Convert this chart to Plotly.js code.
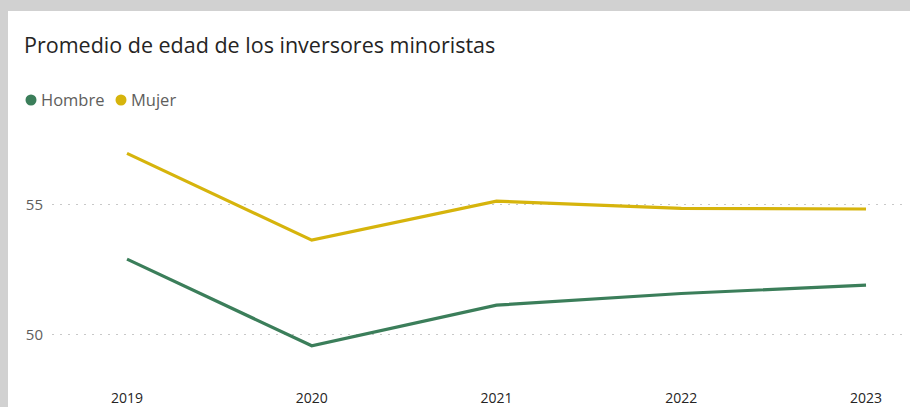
<!DOCTYPE html>
<html>
<head>
<meta charset="utf-8">
<script src="https://cdn.plot.ly/plotly-3.0.1.min.js"></script>
<style>
  html, body { margin: 0; padding: 0; background: #d1d1d1; width: 910px; height: 407px; overflow: hidden; }
  #chart { position: absolute; left: 8px; top: 11px; width: 902px; height: 396px; background: #ffffff; }
</style>
</head>
<body>
<div id="chart"></div>
<script>
const years = [2019, 2020, 2021, 2022, 2023];
const hombre = [52.91, 49.58, 51.14, 51.59, 51.91];
const mujer = [56.98, 53.64, 55.14, 54.86, 54.84];
const seriesNames = ["Hombre", "Mujer"];
const seriesColors = ["#3b7e5a", "#d6b40c"];
const yTicks = [50, 55];
const titleText = "Promedio de edad de los inversores minoristas";

const FONT = "'Open Sans', 'Noto Sans', sans-serif";

const W = 902, H = 396;
const M = { l: 44, r: 5, t: 114, b: 22 };
const PW = W - M.l - M.r, PH = H - M.t - M.b;
const px2x = p => (p - M.l) / PW;
const px2y = p => 1 - (p - M.t) / PH;

const traces = [hombre, mujer].map((vals, i) => ({
  type: "scatter",
  mode: "lines",
  x: years,
  y: vals,
  name: seriesNames[i],
  line: { color: seriesColors[i], width: 3.2 },
  showlegend: false,
  hoverinfo: "x+y+name"
}));

// legend: circle + label per series
const legendStartX = [23, 113];
const legendY = 89;
const shapes = seriesNames.map((n, i) => ({
  type: "circle",
  xref: "paper", yref: "paper",
  xsizemode: "pixel", ysizemode: "pixel",
  xanchor: px2x(legendStartX[i]), yanchor: px2y(legendY),
  x0: -5.5, x1: 5.5, y0: -5.5, y1: 5.5,
  fillcolor: seriesColors[i],
  line: { width: 0 }
}));
const legendAnnotations = seriesNames.map((n, i) => ({
  text: n,
  xref: "paper", yref: "paper",
  x: px2x(legendStartX[i] + 8), y: px2y(legendY),
  xanchor: "left", yanchor: "middle",
  showarrow: false,
  font: { family: FONT, size: 16.5, color: "#605e5c" }
}));

const layout = {
  width: W,
  height: H,
  margin: M,
  paper_bgcolor: "#ffffff",
  plot_bgcolor: "#ffffff",
  showlegend: false,
  title: {
    text: titleText,
    xref: "container", yref: "container",
    x: 16 / W, y: 1 - 34 / H,
    xanchor: "left", yanchor: "middle",
    font: { family: FONT, size: 21.5, color: "#252423" }
  },
  xaxis: {
    type: "linear",
    range: [2018.594, 2023.211],
    tickvals: years,
    ticktext: years.map(String),
    showgrid: false,
    zeroline: false,
    showline: false,
    ticks: "",
    ticklabelstandoff: 3,
    tickfont: { family: FONT, size: 14, color: "#252423" }
  },
  yaxis: {
    range: [48.07, 58.07],
    tickvals: yTicks,
    ticktext: yTicks.map(String),
    showgrid: true,
    gridcolor: "#c8c8c8",
    gridwidth: 1,
    griddash: "2px,6px",
    zeroline: false,
    showline: false,
    ticks: "",
    ticklabelstandoff: 8,
    tickfont: { family: FONT, size: 15, color: "#605e5c" }
  },
  shapes: shapes,
  annotations: legendAnnotations
};

Plotly.newPlot("chart", traces, layout, { displayModeBar: false, staticPlot: true });
</script>
</body>
</html>
